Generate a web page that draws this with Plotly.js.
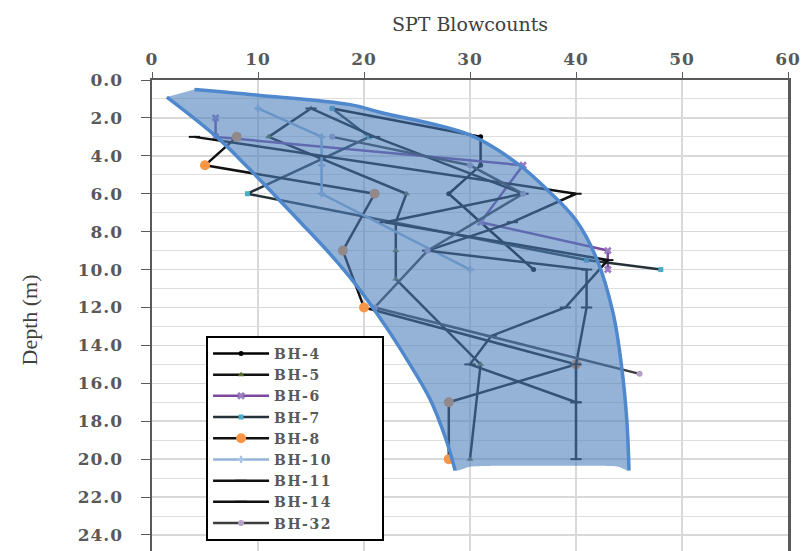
<!DOCTYPE html>
<html>
<head>
<meta charset="utf-8">
<script src="https://cdn.plot.ly/plotly-3.0.1.min.js"></script>
<style>
  html, body { margin: 0; padding: 0; overflow: hidden; background: #fff; }
  #chart { width: 806px; height: 560px; }
  .xtick text, .ytick text { letter-spacing: 1px; }
  .legendtext { letter-spacing: 1.5px; }
</style>
</head>
<body>
<div id="chart"></div>
<script>
// SPT blowcounts (N) against depth (m) for each borehole
const bh4Depth  = [1.5, 3.0, 4.5, 6.0, 10.0];
const bh4N      = [17, 31, 31, 28, 36];

const bh5Depth  = [1.5, 3.0, 6.0, 7.5, 9.0, 10.5, 15.0, 20.0];
const bh5N      = [15, 11, 24, 23, 23, 23, 31, 30];

const bh6Depth  = [2.0, 3.0, 4.5, 7.5, 9.0, 10.0];
const bh6N      = [6, 6, 35, 31, 43, 43];

const bh7Depth  = [1.5, 3.0, 6.0, 9.5, 10.0];
const bh7N      = [17, 20.5, 9, 41, 48];

const bh8Depth  = [3.0, 4.5, 6.0, 9.0, 12.0, 15.0, 17.0, 20.0];
const bh8N      = [8, 5, 21, 18, 20, 40, 28, 28];

const bh10Depth = [1.5, 3.0, 4.5, 6.0, 10.0];
const bh10N     = [10, 16, 16, 16, 30];

const bh11Depth = [3.0, 6.0, 7.5, 9.0, 10.0, 12.0, 15.0, 17.0, 20.0];
const bh11N     = [4, 40, 34, 26, 41, 41, 40, 40, 40];

const bh14Depth = [1.5, 3.0, 6.0, 7.5, 9.5, 12.0, 13.5, 15.0, 17.0];
const bh14N     = [15, 21, 35, 22, 43, 39, 32, 30, 40];

const bh32Depth = [3.0, 4.5, 6.0, 9.0, 12.0, 15.5];
const bh32N     = [17, 30, 35, 26, 21, 46];

// Envelope of the measured blowcounts (lower and upper bound curves, flat base)
const lowerDepth  = [0.9, 3.0, 4.7, 6.5, 7.5, 9.3, 10.7, 12.3, 13.8, 14.7, 16.8, 18.9, 20.6];
const lowerN      = [1.4, 6.1, 9.2, 12.3, 14.0, 17.0, 19.1, 21.2, 23.0, 24.0, 26.2, 27.7, 28.6];
const upperDepth  = [0.5, 0.8, 1.3, 1.7, 2.9, 4.5, 5.8, 7.4, 9.5, 12.3, 15.1, 18.0, 20.6];
const upperN      = [4, 10, 18.7, 21.5, 30, 34.7, 37.3, 40, 42, 43.5, 44.3, 44.8, 45];
const baseDepth   = [20.4, 20.35, 20.35, 20.4];
const baseN       = [30, 35, 40, 44];

const boreholes = [
  {name: 'BH-4',  x: bh4N,  y: bh4Depth,  line: '#000000', marker: {symbol: 'circle', size: 5, color: '#000000'}},
  {name: 'BH-5',  x: bh5N,  y: bh5Depth,  line: '#111111', marker: {symbol: 'triangle-up', size: 6, color: '#5a6b2e'}},
  {name: 'BH-6',  x: bh6N,  y: bh6Depth,  line: '#7b4aa0', marker: {symbol: 'x', size: 7, color: '#9a7cc0'}},
  {name: 'BH-7',  x: bh7N,  y: bh7Depth,  line: '#263238', marker: {symbol: 'square', size: 5, color: '#4bacc6'}},
  {name: 'BH-8',  x: bh8N,  y: bh8Depth,  line: '#111111', marker: {symbol: 'circle', size: 10, color: '#f79646'}},
  {name: 'BH-10', x: bh10N, y: bh10Depth, line: '#95b3d7', marker: {symbol: 'cross', size: 6, color: '#a9c4e4'}},
  {name: 'BH-11', x: bh11N, y: bh11Depth, line: '#111111', marker: {symbol: 'line-ew-open', size: 8, line: {color: '#f2a0a0', width: 2}}},
  {name: 'BH-14', x: bh14N, y: bh14Depth, line: '#111111', marker: {symbol: 'line-ew-open', size: 8, line: {color: '#d7e4bd', width: 2}}},
  {name: 'BH-32', x: bh32N, y: bh32Depth, line: '#3c3c3c', marker: {symbol: 'circle', size: 6, color: '#b3a2c7'}}
];

// trailing no-break spaces widen the legend box
const pad = '\u00a0'.repeat(7);

const traces = boreholes.map(b => ({
  type: 'scatter',
  mode: 'lines+markers',
  name: b.name + pad,
  x: b.x,
  y: b.y,
  line: {color: b.line, width: 2.5},
  marker: b.marker
}));

// Shaded envelope drawn over the borehole lines
traces.push({
  type: 'scatter',
  mode: 'lines',
  x: lowerN.concat(baseN, upperN.slice().reverse()),
  y: lowerDepth.concat(baseDepth, upperDepth.slice().reverse()),
  fill: 'toself',
  fillcolor: 'rgba(79,129,189,0.6)',
  line: {width: 0, shape: 'spline', smoothing: 0.6},
  hoverinfo: 'skip',
  showlegend: false
});
traces.push({
  type: 'scatter', mode: 'lines', x: lowerN, y: lowerDepth,
  line: {color: '#4f88cc', width: 3.5, shape: 'spline'},
  hoverinfo: 'skip', showlegend: false
});
traces.push({
  type: 'scatter', mode: 'lines', x: upperN, y: upperDepth,
  line: {color: '#4f88cc', width: 3.5, shape: 'spline'},
  hoverinfo: 'skip', showlegend: false
});

const tickFont = {family: 'DejaVu Serif', size: 17, color: '#595959', weight: 'bold'};

const layout = {
  width: 806,
  height: 560,
  margin: {l: 152, r: 18, t: 80, b: 0},
  paper_bgcolor: '#ffffff',
  plot_bgcolor: '#ffffff',
  showlegend: true,
  legend: {
    x: 0.085, y: 0.467, xanchor: 'left', yanchor: 'top',
    bgcolor: '#ffffff', bordercolor: '#000000', borderwidth: 2,
    font: {family: 'DejaVu Serif', size: 14, color: '#595959', weight: 'bold'},
    itemwidth: 56,
    tracegroupgap: 0
  },
  xaxis: {
    side: 'top',
    range: [0, 60],
    tick0: 0, dtick: 10,
    ticks: 'outside', ticklen: 6, tickcolor: '#595959',
    tickfont: tickFont,
    showgrid: true, gridcolor: '#d9d9d9', gridwidth: 1.5,
    showline: true, mirror: true, linecolor: '#595959', linewidth: 2.5,
    zeroline: false,
    title: {text: 'SPT Blowcounts', font: {family: 'DejaVu Serif', size: 19, color: '#404040'}, standoff: 12}
  },
  yaxis: {
    range: [25.32, 0],
    tick0: 0, dtick: 2,
    tickformat: '.1f',
    ticks: 'outside', ticklen: 9, tickcolor: '#595959',
    ticklabelstandoff: 14,
    tickfont: tickFont,
    showgrid: true, gridcolor: '#d9d9d9', gridwidth: 1.5,
    minor: {dtick: 1, showgrid: true, gridcolor: '#dedede', gridwidth: 1},
    showline: true, mirror: true, linecolor: '#595959', linewidth: 2.5,
    zeroline: false,
    title: {text: 'Depth (m)', font: {family: 'Liberation Serif', size: 22, color: '#404040'}, standoff: 34}
  }
};

Plotly.newPlot('chart', traces, layout, {displayModeBar: false, staticPlot: true});
</script>
</body>
</html>
